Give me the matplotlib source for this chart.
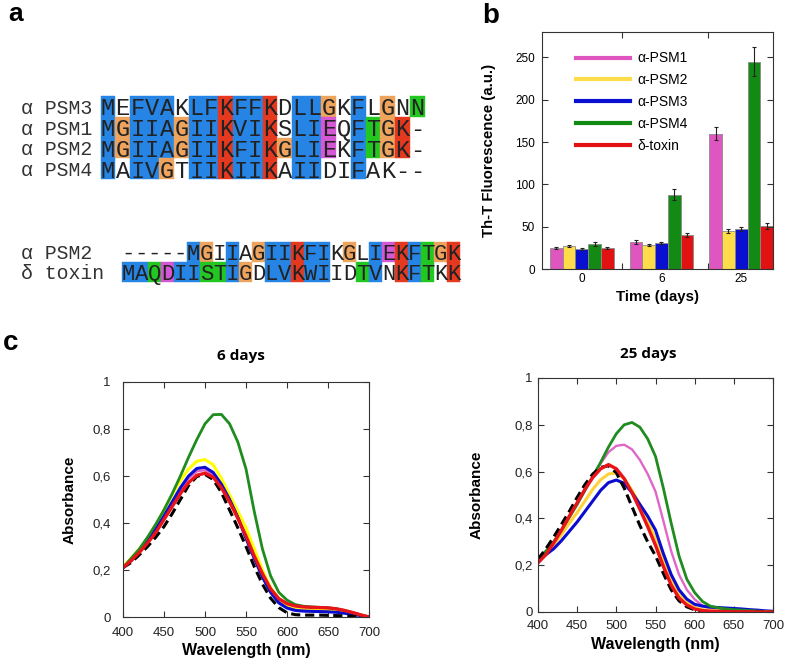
import numpy as np
import matplotlib.pyplot as plt
from matplotlib.patches import Rectangle
from matplotlib.lines import Line2D

plt.rcParams['font.family'] = ['Liberation Sans', 'DejaVu Sans']

W, H = 787, 663

# ---- panel a: sequence alignment ----
top_names = ['α PSM3', 'α PSM1', 'α PSM2', 'α PSM4']
top_seqs = ['MEFVAKLFKFFKDLLGKFLGNN',
            'MGIIAGIIKVIKSLIEQFTGK-',
            'MGIIAGIIKFIKGLIEKFTGK-',
            'MAIVGTIIKIIKAIIDIFAK--']
top_codes = ['bwbbbwbbrbbrwbbowbwowg',
             'bobbbobbrbbrwbbmwbgorw',
             'bobbbobbrbbrobbmwbgorw',
             'bwbbowbbrbbrwbbwwbwwww']
bot_names = ['α PSM2', 'δ toxin']
bot_seqs = ['-----MGIIAGIIKFIKGLIEKFTGK',
            'MAQDIISTIGDLVKWIIDTVNKFTKK']
bot_codes = ['wwwwwbowbwobbrbbwowbmrbgor',
             'bbgmbbggbowbbrbbwwgbwrbgwr']
res_colors = {'b': '#2584e4', 'o': '#eea45c', 'r': '#e4381f',
              'g': '#22c722', 'm': '#d457d4'}

# ---- panel b: Th-T fluorescence ----
times = ['0', '6', '25']
peptides = ['α-PSM1', 'α-PSM2', 'α-PSM3', 'α-PSM4', 'δ-toxin']
psm1_tht = [25, 32, 160]
psm2_tht = [27, 28, 45]
psm3_tht = [24, 31, 47.5]
psm4_tht = [29.5, 88, 245]
toxin_tht = [25, 40, 51]
psm1_err = [1.5, 2, 8]
psm2_err = [1.2, 1.2, 2.5]
psm3_err = [1, 1, 2.5]
psm4_err = [2, 6.5, 17]
toxin_err = [1.5, 2.5, 3.5]
bar_colors = ['#e056c0', '#ffdd4a', '#0a10d0', '#138a13', '#e21212']

# ---- panel c: absorbance spectra ----
wavelength = np.arange(400, 701, 10)
d6_psm1 = [0.21, 0.24, 0.278, 0.32, 0.37, 0.425, 0.48, 0.54, 0.59, 0.62, 0.625,
           0.605, 0.56, 0.495, 0.425, 0.345, 0.255, 0.175, 0.11, 0.065, 0.045,
           0.036, 0.033, 0.032, 0.031, 0.03, 0.026, 0.021, 0.014, 0.007, 0.0]
d6_psm2 = [0.215, 0.25, 0.29, 0.335, 0.39, 0.455, 0.52, 0.58, 0.63, 0.663, 0.67,
           0.648, 0.59, 0.52, 0.45, 0.38, 0.29, 0.2, 0.125, 0.078, 0.052,
           0.042, 0.038, 0.036, 0.035, 0.033, 0.029, 0.023, 0.016, 0.008, 0.0]
d6_psm3 = [0.21, 0.24, 0.28, 0.325, 0.375, 0.43, 0.49, 0.55, 0.6, 0.632, 0.637,
           0.615, 0.565, 0.5, 0.425, 0.335, 0.25, 0.17, 0.105, 0.06, 0.038,
           0.028, 0.025, 0.024, 0.023, 0.022, 0.02, 0.016, 0.011, 0.006, 0.0]
d6_psm4 = [0.21, 0.25, 0.29, 0.34, 0.395, 0.456, 0.525, 0.6, 0.68, 0.755, 0.822,
           0.861, 0.862, 0.822, 0.745, 0.63, 0.45, 0.29, 0.175, 0.105, 0.072,
           0.053, 0.046, 0.043, 0.041, 0.039, 0.035, 0.028, 0.019, 0.009, 0.0]
d6_toxin = [0.21, 0.24, 0.275, 0.315, 0.36, 0.415, 0.47, 0.525, 0.572, 0.603, 0.612,
            0.595, 0.55, 0.49, 0.42, 0.345, 0.26, 0.185, 0.12, 0.078, 0.057,
            0.047, 0.043, 0.041, 0.04, 0.039, 0.035, 0.028, 0.019, 0.009, 0.0]
d6_ctrl = [0.21, 0.232, 0.265, 0.3, 0.34, 0.385, 0.44, 0.5, 0.56, 0.598, 0.607,
           0.585, 0.53, 0.455, 0.38, 0.3, 0.215, 0.14, 0.08, 0.04, 0.018,
           0.01, 0.008, 0.008, 0.008, 0.007, 0.006, 0.005, 0.003, 0.001, 0.0]

d25_psm1 = [0.22, 0.255, 0.3, 0.35, 0.405, 0.46, 0.52, 0.58, 0.635, 0.683, 0.71,
            0.715, 0.695, 0.65, 0.59, 0.515, 0.39, 0.26, 0.16, 0.095, 0.054,
            0.027, 0.015, 0.01, 0.008, 0.006, 0.005, 0.004, 0.003, 0.002, 0.001]
d25_psm2 = [0.215, 0.245, 0.285, 0.33, 0.38, 0.425, 0.475, 0.525, 0.565, 0.59, 0.594,
            0.57, 0.52, 0.46, 0.39, 0.31, 0.22, 0.135, 0.075, 0.04, 0.018,
            0.01, 0.006, 0.004, 0.003, 0.002, 0.002, 0.001, 0.001, 0.0, 0.0]
d25_psm3 = [0.23, 0.245, 0.27, 0.305, 0.345, 0.385, 0.43, 0.475, 0.52, 0.553, 0.564,
            0.55, 0.51, 0.46, 0.41, 0.35, 0.25, 0.16, 0.095, 0.055, 0.033,
            0.025, 0.021, 0.019, 0.017, 0.015, 0.013, 0.01, 0.008, 0.005, 0.003]
d25_psm4 = [0.23, 0.26, 0.3, 0.35, 0.405, 0.46, 0.52, 0.58, 0.64, 0.705, 0.762,
            0.8, 0.81, 0.79, 0.74, 0.665, 0.53, 0.38, 0.24, 0.14, 0.083,
            0.045, 0.025, 0.018, 0.013, 0.01, 0.008, 0.006, 0.004, 0.002, 0.001]
d25_toxin = [0.21, 0.245, 0.295, 0.35, 0.41, 0.467, 0.525, 0.575, 0.612, 0.63, 0.612,
             0.57, 0.51, 0.44, 0.365, 0.285, 0.195, 0.115, 0.06, 0.03, 0.013,
             0.006, 0.003, 0.002, 0.002, 0.001, 0.001, 0.001, 0.0, 0.0, 0.0]
d25_ctrl = [0.225, 0.27, 0.32, 0.375, 0.43, 0.49, 0.545, 0.59, 0.618, 0.625, 0.595,
            0.53, 0.45, 0.37, 0.3, 0.24, 0.165, 0.095, 0.048, 0.022, 0.009,
            0.004, 0.002, 0.002, 0.001, 0.001, 0.001, 0.0, 0.0, 0.0, 0.0]


def fx(x):
    return x / W


def fy(y):
    return 1 - y / H


def draw_block(ax, names, seqs, codes, x0, y0, cw, rh, fs):
    for i, (name, seq, code) in enumerate(zip(names, seqs, codes)):
        yc = y0 + (i + 0.5) * rh
        ax.text(21, yc, name, family='Liberation Mono', fontsize=14.3,
                va='center_baseline', ha='left', color='#333333')
        for j, (ch, c) in enumerate(zip(seq, code)):
            if c in res_colors:
                ax.add_patch(Rectangle((x0 + j * cw, y0 + i * rh), cw, rh,
                                       facecolor=res_colors[c],
                                       edgecolor=res_colors[c], lw=0.3))
            ax.text(x0 + (j + 0.5) * cw, yc, ch, family='Liberation Mono',
                    fontsize=fs, ha='center', va='center_baseline',
                    color='#222222')


fig = plt.figure(figsize=(W / 100, H / 100), dpi=100)

# panel a drawn on a pixel-space overlay
ax_a = fig.add_axes([0, 0, 1, 1])
ax_a.set_xlim(0, W)
ax_a.set_ylim(H, 0)
ax_a.axis('off')
draw_block(ax_a, top_names, top_seqs, top_codes, 100.5, 96, 14.73, 20.75, 17)
draw_block(ax_a, bot_names, bot_seqs, bot_codes, 122, 241.7, 13.0, 20, 16)

# panel letters
fig.text(fx(8), fy(21), 'a', fontsize=19, fontweight='bold', va='baseline')
fig.text(fx(482), fy(23), 'b', fontsize=20, fontweight='bold', va='baseline')
fig.text(fx(3), fy(350), 'c', fontsize=20, fontweight='bold', va='baseline')

# panel b
ax_b = fig.add_axes([fx(542), fy(269), (773 - 542) / W, (269 - 32) / H])
x = np.arange(len(times))
bw = 0.16
series = [psm1_tht, psm2_tht, psm3_tht, psm4_tht, toxin_tht]
errors = [psm1_err, psm2_err, psm3_err, psm4_err, toxin_err]
for k, (vals, errs) in enumerate(zip(series, errors)):
    ax_b.bar(x + (k - 2) * bw, vals, bw, yerr=errs, color=bar_colors[k],
             edgecolor='#8a8a8a', lw=0.6,
             error_kw=dict(ecolor='#222222', elinewidth=0.8, capsize=1.5,
                           capthick=0.8))
ax_b.set_xlim(-0.5, 2.4)
ax_b.set_ylim(0, 280)
ax_b.set_yticks(range(0, 251, 50))
ax_b.set_xticks([0.5, 1.58])
ax_b.set_xticklabels(['', ''])
ax_b.set_xticks(x, minor=True)
ax_b.set_xticklabels(times, minor=True)
ax_b.tick_params(axis='both', which='major', direction='in', length=4,
                 top=True, right=True, labelsize=8.5, pad=5, color='#333333')
ax_b.tick_params(axis='x', which='minor', length=0, labelsize=8.5, pad=3)
for s in ax_b.spines.values():
    s.set_color('#333333')
handles = [Line2D([], [], color=c, lw=3) for c in bar_colors]
ax_b.legend(handles, peptides, loc='upper left', bbox_to_anchor=(0.147, 0.918),
            frameon=False, fontsize=10, handlelength=3.9, handletextpad=0.5,
            labelspacing=0.56, borderpad=0, borderaxespad=0)
fig.text(fx(489), fy(150), 'Th-T Fluorescence (a.u.)', rotation=90,
         fontsize=10.8, fontweight='bold', ha='center', va='center')
fig.text(fx(657), fy(297), 'Time (days)', fontsize=10.8, fontweight='bold',
         ha='center', va='center')

# panel c
curve_styles = [('#e066c8', 1.7, '-'), ('#ffff00', 2.2, '-'), ('#0c0cd0', 2.2, '-'),
                ('#1e8c1e', 2.0, '-'), ('black', 2.2, (0, (3, 1.6))),
                ('#e8141a', 2.4, '-')]


def spectra_panel(rect, curves, colors, title, title_xy, ylab_x, xlab_y,
                  ypad, xpad):
    ax = fig.add_axes(rect)
    for ydata, (col, lw, ls) in zip(curves, colors):
        ax.plot(wavelength, ydata, color=col, lw=lw, ls=ls,
                solid_joinstyle='round')
    ax.set_xlim(400, 700)
    ax.set_ylim(0, 1)
    ax.set_xticks(range(400, 701, 50))
    ax.set_yticks([0, 0.2, 0.4, 0.6, 0.8, 1])
    ax.set_yticklabels(['0', '0,2', '0,4', '0,6', '0,8', '1'])
    ax.tick_params(axis='both', direction='in', length=4, top=True, right=True,
                   labelsize=9.5, color='#333333', labelcolor='#222222')
    ax.tick_params(axis='y', pad=ypad)
    ax.tick_params(axis='x', pad=xpad)
    for s in ax.spines.values():
        s.set_color('#333333')
    fig.text(fx(title_xy[0]), fy(title_xy[1]), title, family='Open Sans',
             fontsize=11, fontweight='bold', ha='center', va='center')
    fig.text(fx(ylab_x), (rect[1] + rect[3] / 2), 'Absorbance', rotation=90,
             fontsize=11, fontweight='bold', ha='center', va='center')
    fig.text(rect[0] + rect[2] / 2, fy(xlab_y), 'Wavelength (nm)',
             fontsize=11.5, fontweight='bold', ha='center', va='center')
    return ax


d6 = [d6_psm1, d6_psm2, d6_psm3, d6_psm4, d6_ctrl, d6_toxin]
d25 = [d25_psm1, d25_psm2, d25_psm3, d25_psm4, d25_ctrl, d25_toxin]
styles25 = list(curve_styles)
styles25[1] = ('#ffd23c', 2.2, '-')

spectra_panel([fx(123), fy(617), (369 - 123) / W, (617 - 382) / H], d6,
              curve_styles, '6 days', (241, 356), 70, 651, 9, 7)
spectra_panel([fx(538), fy(612), (773 - 538) / W, (612 - 378) / H], d25,
              styles25, '25 days', (648, 354), 477, 645, 4, 6)

fig.savefig('out.png', dpi=100)
